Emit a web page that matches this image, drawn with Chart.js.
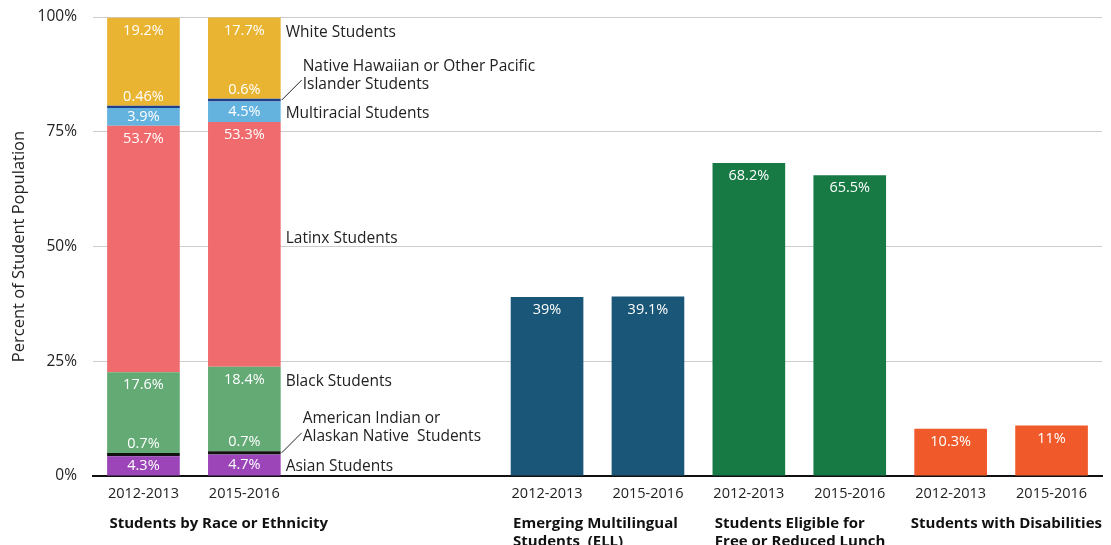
<!DOCTYPE html>
<html>
<head>
<meta charset="utf-8">
<script src="https://cdn.jsdelivr.net/npm/chart.js@4/dist/chart.umd.min.js"></script>
<style>
  body { margin: 0; background: #fff; }
  #wrap { width: 1111px; height: 545px; }
</style>
</head>
<body>
<div id="wrap"><canvas id="chart" width="1111" height="545"></canvas></div>
<script>
// category slots: two race years, two empty spacers, then three pairs
const xLabels = ['2012-2013', '2015-2016', '', '', '2012-2013', '2015-2016', '2012-2013', '2015-2016', '2012-2013', '2015-2016'];
const yTicks = [0, 25, 50, 75, 100];

// race / ethnicity, bottom to top of the stack
const raceNames = ['Asian Students', 'American Indian or|Alaskan Native  Students', 'Black Students', 'Latinx Students',
    'Multiracial Students', 'Native Hawaiian or Other Pacific|Islander Students', 'White Students'];
const asianVals = [4.3, 4.7];
const amIndianVals = [0.7, 0.7];
const blackVals = [17.6, 18.4];
const latinxVals = [53.7, 53.3];
const multiracialVals = [3.9, 4.5];
const hawaiianVals = [0.46, 0.6];
const whiteVals = [19.2, 17.7];

const ellVals = [39, 39.1];
const lunchVals = [68.2, 65.5];
const disabilityVals = [10.3, 11];

const groupTitles = [
    { at: 0, lines: ['Students by Race or Ethnicity'] },
    { at: 4, lines: ['Emerging Multilingual', 'Students  (ELL)'] },
    { at: 6, lines: ['Students Eligible for', 'Free or Reduced Lunch'] },
    { at: 8, lines: ['Students with Disabilities'] }
];

const raceColors = ['#9b45b9', '#111111', '#63aa75', '#f06b6d', '#64b3df', '#1f3e8e', '#e9b431'];
const FONT = "'Open Sans', sans-serif";

function slot(vals, start) {
    let arr = new Array(xLabels.length).fill(null);
    vals.forEach((v, i) => { arr[start + i] = v; });
    return arr;
}

const raceSeries = [asianVals, amIndianVals, blackVals, latinxVals, multiracialVals, hawaiianVals, whiteVals];
let datasets = raceSeries.map((vals, i) => ({
    label: raceNames[i],
    data: slot(vals, 0),
    backgroundColor: raceColors[i],
    race: true
}));
datasets.push({ label: 'ELL', data: slot(ellVals, 4), backgroundColor: '#1a5677' });
datasets.push({ label: 'Lunch', data: slot(lunchVals, 6), backgroundColor: '#177944' });
datasets.push({ label: 'Disabilities', data: slot(disabilityVals, 8), backgroundColor: '#f05a2b' });

function labelY(bar, v) {
    let top = Math.min(bar.y, bar.base);
    let h = Math.abs(bar.base - bar.y);
    if (v < 1) return top - 9;
    return top + Math.min(13, h / 2);
}

const textPlugin = {
    id: 'textPlugin',
    afterDatasetsDraw(chart) {
        const ctx = chart.ctx;
        ctx.save();
        ctx.textAlign = 'center';
        ctx.textBaseline = 'middle';
        ctx.font = '14.5px ' + FONT;
        ctx.fillStyle = '#ffffff';
        chart.data.datasets.forEach((ds, i) => {
            chart.getDatasetMeta(i).data.forEach((bar, j) => {
                let v = ds.data[j];
                if (v == null) return;
                ctx.fillText(v + '%', bar.x, labelY(bar, v));
            });
        });

        // names beside the second race bar
        ctx.textAlign = 'left';
        ctx.font = '15.5px ' + FONT;
        ctx.fillStyle = '#222222';
        ctx.strokeStyle = '#222222';
        ctx.lineWidth = 1;
        chart.data.datasets.forEach((ds, i) => {
            if (!ds.race) return;
            let bar = chart.getDatasetMeta(i).data[1];
            let v = ds.data[1];
            let right = bar.x + bar.width / 2;
            let mid = (bar.y + bar.base) / 2;
            let lines = ds.label.split('|');
            if (v < 1) {
                ctx.beginPath();
                ctx.moveTo(right + 1, mid);
                ctx.lineTo(right + 21, mid - 20);
                ctx.stroke();
                ctx.fillText(lines[0], right + 22, mid - 34);
                ctx.fillText(lines[1], right + 22, mid - 16);
            } else {
                let y = ds.label === 'Latinx Students' ? mid - 6 : labelY(bar, v) + 2;
                ctx.fillText(lines[0], right + 5, y);
            }
        });

        // group titles under the year ticks
        const xs = chart.scales.x;
        ctx.font = 'bold 15px ' + FONT;
        ctx.fillStyle = '#111111';
        groupTitles.forEach(g => {
            let x = xs.getPixelForValue(g.at) - 34;
            let widest = Math.max(...g.lines.map(t => ctx.measureText(t).width));
            x = Math.min(x, chart.chartArea.right - widest);
            g.lines.forEach((t, k) => {
                ctx.fillText(t, x, chart.chartArea.bottom + 48 + k * 18);
            });
        });
        ctx.restore();
    }
};

new Chart(document.getElementById('chart'), {
    type: 'bar',
    data: { labels: xLabels, datasets: datasets },
    options: {
        responsive: false,
        animation: false,
        layout: { padding: { top: 17, right: 9, left: 0, bottom: 0 } },
        plugins: { legend: { display: false }, tooltip: { enabled: false } },
        datasets: { bar: { barPercentage: 0.72, categoryPercentage: 1 } },
        scales: {
            x: {
                stacked: true,
                grid: { display: false },
                border: { color: '#111111', width: 2 },
                ticks: { color: '#222222', font: { family: FONT, size: 14.5 }, padding: 1, autoSkip: false, maxRotation: 0 },
                afterFit(scale) { scale.height = 69; }
            },
            y: {
                stacked: true,
                min: 0,
                max: 100,
                afterBuildTicks(scale) { scale.ticks = yTicks.map(v => ({ value: v })); },
                grid: { color: '#cccccc', drawTicks: false },
                border: { display: false },
                ticks: {
                    color: '#222222',
                    font: { family: FONT, size: 15.5 },
                    padding: 16,
                    callback: v => v + '%'
                },
                title: {
                    display: true,
                    text: 'Percent of Student Population',
                    color: '#222222',
                    font: { family: FONT, size: 16.5 },
                    padding: { top: 9, bottom: 0 }
                },
                afterFit(scale) {
                    scale.width = 93;
                    scale.paddingTop = 0;
                    scale.paddingBottom = 0;
                }
            }
        }
    },
    plugins: [textPlugin]
});
</script>
</body>
</html>
